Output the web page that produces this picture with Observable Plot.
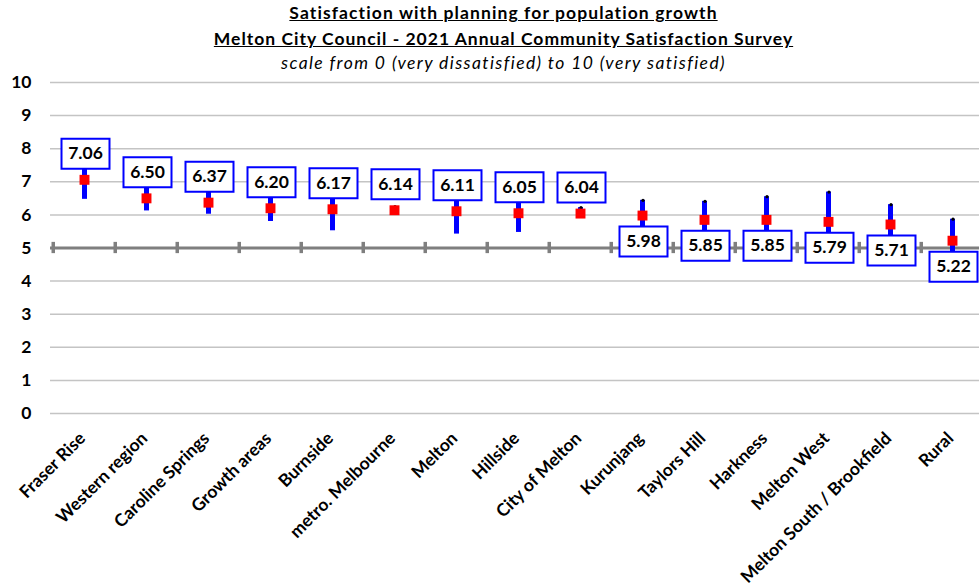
<!DOCTYPE html>
<html>
<head>
<meta charset="utf-8">
<script src="https://cdn.jsdelivr.net/npm/d3@7"></script>
<script src="https://cdn.jsdelivr.net/npm/@observablehq/plot@0.6"></script>
<style>
  html, body { margin: 0; padding: 0; background: #fff; }
  body { width: 979px; height: 587px; overflow: hidden; font-family: Lato, "Open Sans", sans-serif; color: #000; }
  #header { position: relative; width: 979px; height: 72px; }
  #header div { position: absolute; left: 28px; width: 951px; text-align: center; white-space: nowrap; }
  .t1 { top: 2px; font-size: 17.5px; font-weight: bold; text-decoration: underline; letter-spacing: 1.1px; }
  .t2 { top: 28px; font-size: 17.5px; font-weight: bold; text-decoration: underline; letter-spacing: 1.0px; }
  .t3 { top: 52px; font-size: 17.5px; font-style: italic; letter-spacing: 1.4px; }
</style>
</head>
<body>
<div id="header">
  <div class="t1">Satisfaction with planning for population growth</div>
  <div class="t2">Melton City Council - 2021 Annual Community Satisfaction Survey</div>
  <div class="t3">scale from 0 (very dissatisfied) to 10 (very satisfied)</div>
</div>
<div id="chart"></div>
<script>
const categories = ["Fraser Rise","Western region","Caroline Springs","Growth areas","Burnside","metro. Melbourne","Melton","Hillside","City of Melton","Kurunjang","Taylors Hill","Harkness","Melton West","Melton South / Brookfield","Rural"];
const means = [7.06,6.50,6.37,6.20,6.17,6.14,6.11,6.05,6.04,5.98,5.85,5.85,5.79,5.71,5.22];
const lower = [6.47,6.12,6.02,5.80,5.52,6.04,5.42,5.47,5.94,5.52,5.29,5.15,4.89,5.11,4.57];
const upper = [7.65,6.88,6.72,6.60,6.82,6.25,6.80,6.63,6.22,6.44,6.41,6.55,6.69,6.31,5.87];
const yTicks = [0,1,2,3,4,5,6,7,8,9,10];
const reference = 5;

const data = categories.map((c, i) => ({cat: c, mean: means[i], lo: lower[i], hi: upper[i]}));

const boxSymbol = {draw(ctx) { ctx.moveTo(-24,-15); ctx.lineTo(24,-15); ctx.lineTo(24,15); ctx.lineTo(-24,15); ctx.closePath(); }};
const step = (987 - 49.5) / categories.length;

const chart = Plot.plot({
  width: 979,
  height: 515,
  marginTop: 10,
  marginBottom: 174,
  marginLeft: 50,
  marginRight: 0,
  style: {fontFamily: "Lato, 'Open Sans', sans-serif", color: "#000", overflow: "visible"},
  x: {type: "point", domain: categories, range: [49.5, 987], padding: 0.5, label: null},
  y: {domain: [0, 10], label: null},
  marks: [
    Plot.ruleY(yTicks.filter(t => t !== reference), {stroke: "#c4c4c4", strokeWidth: 1.5}),
    Plot.ruleY([reference], {stroke: "#7f7f7f", strokeWidth: 3}),
    Plot.ruleX(categories, {x: d => d, y1: reference - 0.17, y2: reference + 0.17, dx: -step / 2, stroke: "#7f7f7f", strokeWidth: 3.5}),
    Plot.axisY({ticks: yTicks, tickSize: 0, tickPadding: 19, fontSize: 17.5, fontWeight: "bold", tickFormat: d => d}),
    Plot.axisX({tickSize: 0, tickRotate: -45, tickPadding: 22, dx: -2, fontSize: 17.5, fontWeight: "bold"}),
    Plot.ruleX(data, {x: "cat", y1: "lo", y2: "hi", stroke: "#0000ff", strokeWidth: 5}),
    Plot.dot(data, {x: "cat", y: "hi", r: 1.6, fill: "#000", dx: 0.5}),
    Plot.dot(data, {x: "cat", y: "mean", symbol: "square", r: 5.6, fill: "#ff0000"}),
    Plot.dot(data, {filter: d => d.mean >= 6, x: "cat", y: "mean", symbol: boxSymbol, r: 10, fill: "#fff", stroke: "#0000ff", strokeWidth: 2, dy: -26, dx: 1}),
    Plot.dot(data, {filter: d => d.mean < 6, x: "cat", y: "mean", symbol: boxSymbol, r: 10, fill: "#fff", stroke: "#0000ff", strokeWidth: 2, dy: 26, dx: 1}),
    Plot.text(data, {filter: d => d.mean >= 6, x: "cat", y: "mean", text: d => d.mean.toFixed(2), dy: -26, dx: 1, fontSize: 17.5, fontWeight: "bold", fill: "#000"}),
    Plot.text(data, {filter: d => d.mean < 6, x: "cat", y: "mean", text: d => d.mean.toFixed(2), dy: 26, dx: 1, fontSize: 17.5, fontWeight: "bold", fill: "#000"})
  ]
});
document.getElementById("chart").appendChild(chart);
</script>
</body>
</html>
